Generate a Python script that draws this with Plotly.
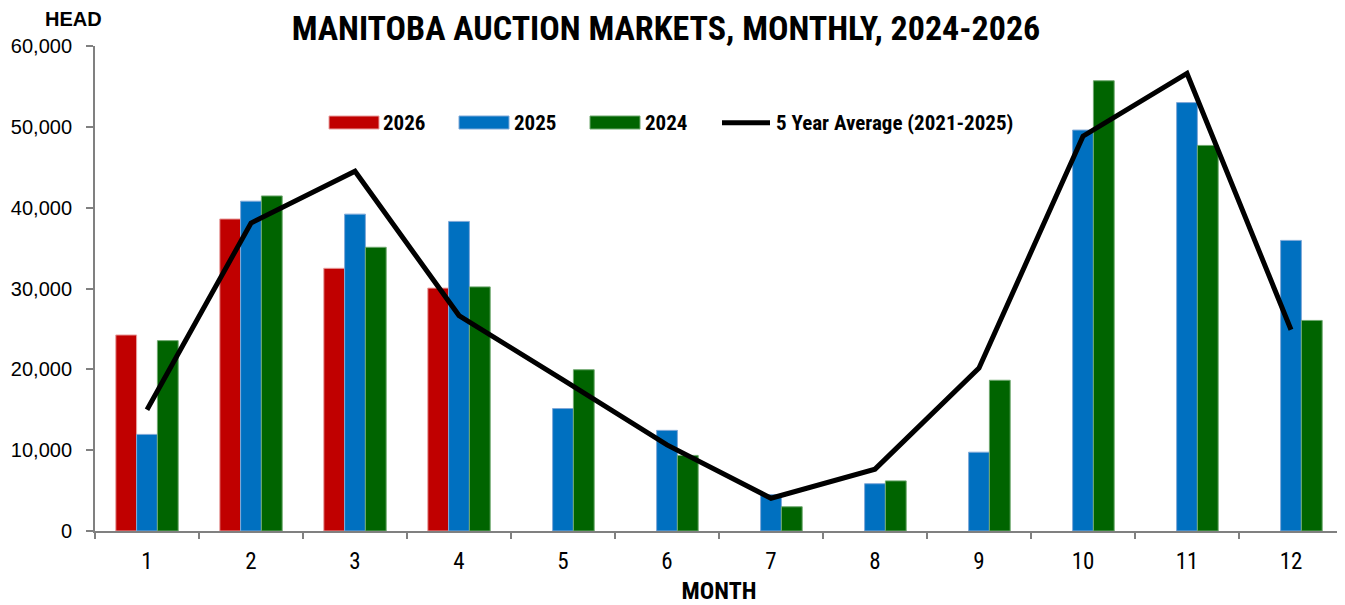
import plotly.graph_objects as go

months = [str(m) for m in range(1, 13)]
y2026 = [24250, 38600, 32500, 30050, None, None, None, None, None, None, None, None]
y2025 = [11950, 40800, 39200, 38300, 15150, 12450, 4500, 5850, 9750, 49600, 53000, 35950]
y2024 = [23550, 41450, 35100, 30200, 19950, 9350, 3000, 6200, 18650, 55700, 47700, 26050]
avg5 = [15000, 38100, 44500, 26650, 18700, 10650, 4050, 7650, 20150, 48850, 56600, 24900]

series_names = ["2026", "2025", "2024"]
series_colors = ["#C00000", "#0070C0", "#006400"]
edge_colors = ["#E8A0A0", "#7FA8D8", "#6FA86F"]
avg_name = "5 Year Average (2021-2025)"

NARROW = "Roboto Condensed, Liberation Sans Narrow, Arial Narrow, Roboto, sans-serif"
REG = "Liberation Sans, Arial, sans-serif"

# figure geometry (page body adds 8px offset)
W, H = 1337, 597
L, R, T, B = 87, 2, 38, 74
PW, PH = W - L - R, H - T - B


def px_x(sx):
    return (sx - 8 - L) / PW


def px_y(sy):
    return (H - B - (sy - 8)) / PH


fig = go.Figure()
for name, vals, col, ec in zip(series_names, [y2026, y2025, y2024], series_colors, edge_colors):
    fig.add_trace(go.Bar(x=months, y=vals, name=name,
                         marker=dict(color=col, line=dict(color=ec, width=1))))
fig.add_trace(go.Scatter(x=months, y=avg5, name=avg_name, mode="lines",
                         line=dict(color="black", width=5)))

# manual legend (wide swatches like the original)
shapes = []
annotations = []
swatch_left = [329, 459, 590]
text_left = [383, 514, 645]
for sl, tl, name, col, ec in zip(swatch_left, text_left, series_names, series_colors, edge_colors):
    shapes.append(dict(type="rect", xref="paper", yref="paper",
                       x0=px_x(sl), x1=px_x(sl + 50), y0=px_y(129), y1=px_y(116),
                       fillcolor=col, line=dict(color=ec, width=1)))
    annotations.append(dict(text="<b>%s</b>" % name, xref="paper", yref="paper",
                            x=px_x(tl - 2), y=px_y(122.5), xanchor="left", yanchor="middle",
                            showarrow=False, font=dict(family=NARROW, size=21, color="black")))
shapes.append(dict(type="line", xref="paper", yref="paper",
                   x0=px_x(722), x1=px_x(770), y0=px_y(122.7), y1=px_y(122.7),
                   line=dict(color="black", width=5)))
annotations.append(dict(text="<b>%s</b>" % avg_name, xref="paper", yref="paper",
                        x=px_x(774), y=px_y(122.5), xanchor="left", yanchor="middle",
                        showarrow=False, font=dict(family=NARROW, size=21, color="black")))
annotations.append(dict(text="<b>HEAD</b>", xref="paper", yref="paper", x=px_x(73.5), y=px_y(19.5),
                        xanchor="center", yanchor="middle", showarrow=False,
                        font=dict(family=REG, size=20, color="black")))

fig.update_layout(
    width=W, height=H,
    margin=dict(l=L, r=R, t=T, b=B, autoexpand=False),
    paper_bgcolor="white", plot_bgcolor="white",
    barmode="group", bargap=0.4, bargroupgap=0,
    title=dict(text="<b>MANITOBA AUCTION MARKETS, MONTHLY, 2024-2026</b>",
               x=(666 - 8) / W, xanchor="center", y=1 - (28 - 8) / H, yanchor="middle",
               font=dict(family=NARROW, size=34, color="black")),
    showlegend=False,
    shapes=shapes,
    annotations=annotations,
    xaxis=dict(type="category", showline=True, linecolor="#808080", linewidth=2,
               ticks="outside", tickson="boundaries", ticklen=6, tickcolor="#808080", tickwidth=2,
               ticklabelstandoff=8,
               tickfont=dict(family=NARROW, size=23, color="black"), showgrid=False,
               title=dict(text="<b>MONTH</b>", font=dict(family=NARROW, size=24, color="black"), standoff=14)),
    yaxis=dict(range=[0, 60000], dtick=10000, tickformat=",d", showline=True, linecolor="#808080", linewidth=2,
               ticks="outside", ticklen=7, tickcolor="#808080", tickwidth=2, showgrid=False, zeroline=False,
               ticklabelstandoff=10,
               tickfont=dict(family=REG, size=20, color="black")),
)

fig.write_html("out.html")
